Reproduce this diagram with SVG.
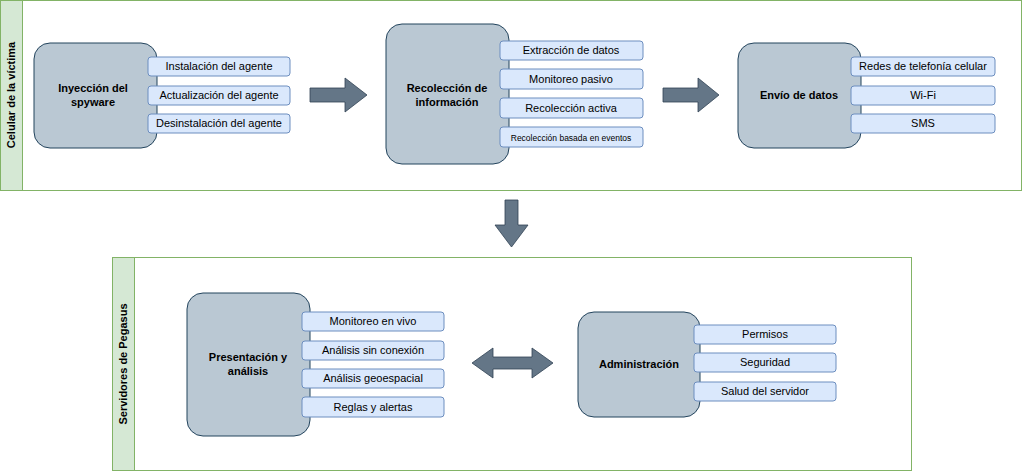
<svg xmlns="http://www.w3.org/2000/svg" width="1024" height="472" viewBox="0 0 1024 472">
<style>
text{font-family:"Liberation Sans",Arial,sans-serif;fill:#000}
.cont{fill:#fff;stroke:#82b366;stroke-width:1}
.strip{fill:#d5e8d4;stroke:#82b366;stroke-width:1}
.lane{font-size:11px;font-weight:bold;text-anchor:middle}
.node{fill:#bac8d3;stroke:#23445d;stroke-width:1}
.nt{font-size:11px;font-weight:bold;text-anchor:middle}
.item{fill:#dae8fc;stroke:#6c8ebf;stroke-width:1}
.it{font-size:11px;text-anchor:middle}
.arr{fill:#647687;stroke:#314354;stroke-width:0.8}
</style>
<g id="lane1">
<rect class="cont" x="0.5" y="0.5" width="1021" height="190"/>
<rect class="strip" x="0.5" y="0.5" width="22" height="190"/>
<text class="lane" transform="translate(15,95) rotate(-90)">Celular de la víctima</text>
</g>
<g id="lane2">
<rect class="cont" x="112.5" y="257.5" width="799" height="213"/>
<rect class="strip" x="112.5" y="257.5" width="22" height="213"/>
<text class="lane" transform="translate(127,364) rotate(-90)">Servidores de Pegasus</text>
</g>
<g id="connectors">
<path class="arr" d="M310,88 H345 V78 L367,95 L345,112 V102 H310 Z"/>
<path class="arr" d="M663,88 H698 V78 L719,95 L698,112 V102 H663 Z"/>
<path class="arr" d="M505,200 H518 V225 H528 L511.5,247 L495,225 H505 Z"/>
<path class="arr" d="M472,363 L493,348 V357 H532 V348 L553,363 L532,378 V369 H493 V378 Z"/>
</g>
<g id="n1">
<rect class="node" x="34" y="43" width="123" height="105" rx="16"/>
<text class="nt" x="93" y="92">Inyección del</text><text class="nt" x="93" y="106">spyware</text>
<rect class="item" x="148" y="57" width="142" height="19" rx="3"/><text class="it" x="219" y="70">Instalación del agente</text>
<rect class="item" x="148" y="86" width="142" height="19" rx="3"/><text class="it" x="219" y="99">Actualización del agente</text>
<rect class="item" x="148" y="114" width="142" height="19" rx="3"/><text class="it" x="219" y="127">Desinstalación del agente</text>
</g>
<g id="n2">
<rect class="node" x="386" y="24" width="123" height="140" rx="16"/>
<text class="nt" x="447" y="92">Recolección de</text><text class="nt" x="447" y="106">información</text>
<rect class="item" x="500" y="41" width="143" height="19" rx="3"/><text class="it" x="571" y="54">Extracción de datos</text>
<rect class="item" x="500" y="69" width="143" height="20" rx="3"/><text class="it" x="571" y="83">Monitoreo pasivo</text>
<rect class="item" x="500" y="98" width="143" height="20" rx="3"/><text class="it" x="571" y="112">Recolección activa</text>
<rect class="item" x="500" y="127" width="143" height="20" rx="3"/><text class="it" x="571" y="141" style="font-size:8.5px">Recolección basada en eventos</text>
</g>
<g id="n3">
<rect class="node" x="738" y="43" width="123" height="105" rx="16"/>
<text class="nt" x="799" y="99">Envío de datos</text>
<rect class="item" x="851" y="57" width="144" height="19" rx="3"/><text class="it" x="923" y="70">Redes de telefonía celular</text>
<rect class="item" x="851" y="86" width="144" height="19" rx="3"/><text class="it" x="923" y="99">Wi-Fi</text>
<rect class="item" x="851" y="114" width="144" height="19" rx="3"/><text class="it" x="923" y="127">SMS</text>
</g>
<g id="n4">
<rect class="node" x="187" y="293" width="123" height="143" rx="16"/>
<text class="nt" x="248" y="361">Presentación y</text><text class="nt" x="248" y="375">análisis</text>
<rect class="item" x="302" y="312" width="142" height="19" rx="3"/><text class="it" x="373" y="325">Monitoreo en vivo</text>
<rect class="item" x="302" y="341" width="142" height="19" rx="3"/><text class="it" x="373" y="354">Análisis sin conexión</text>
<rect class="item" x="302" y="369" width="142" height="19" rx="3"/><text class="it" x="373" y="382">Análisis geoespacial</text>
<rect class="item" x="302" y="397" width="142" height="20" rx="3"/><text class="it" x="373" y="411">Reglas y alertas</text>
</g>
<g id="n5">
<rect class="node" x="578" y="312" width="122" height="105" rx="16"/>
<text class="nt" x="639" y="368">Administración</text>
<rect class="item" x="694" y="325" width="142" height="19" rx="3"/><text class="it" x="765" y="338">Permisos</text>
<rect class="item" x="694" y="353" width="142" height="19" rx="3"/><text class="it" x="765" y="366">Seguridad</text>
<rect class="item" x="694" y="382" width="142" height="19" rx="3"/><text class="it" x="765" y="395">Salud del servidor</text>
</g>
</svg>
